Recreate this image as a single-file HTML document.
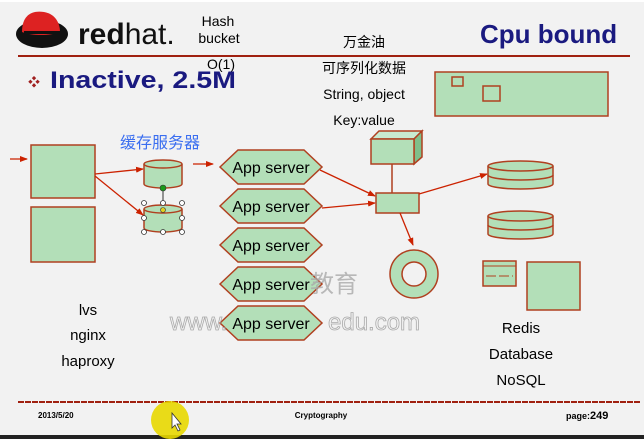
<html><body style="margin:0;background:#f2f2f2">
<svg width="644" height="439" xmlns="http://www.w3.org/2000/svg" style="display:block;font-family:'Liberation Sans','Noto Sans CJK SC',sans-serif">
<defs>
<marker id="a" markerWidth="8" markerHeight="8" refX="7" refY="4" orient="auto" markerUnits="userSpaceOnUse"><path d="M0,1 L8,4 L0,7z" fill="#cc2200"/></marker>
<g id="hex"><polygon points="220,17 238,0 304,0 322,17 304,34 238,34" fill="#b3dfb8" stroke="#b04020" stroke-width="1.5"/><text x="271" y="23" font-size="16" text-anchor="middle" fill="#000">App server</text></g>
<g id="db"><path d="M488,166 v18 a32.5,5 0 0 0 65,0 v-18" fill="#b3dfb8" stroke="#b04020" stroke-width="1.5"/><path d="M488,175 a32.5,5 0 0 0 65,0" fill="none" stroke="#b04020" stroke-width="1.5"/><ellipse cx="520.5" cy="166" rx="32.5" ry="5" fill="#b3dfb8" stroke="#b04020" stroke-width="1.5"/></g>
</defs>
<rect width="644" height="439" fill="#f2f2f2"/>
<rect y="0" width="644" height="2" fill="#fff"/>
<rect y="435" width="644" height="4" fill="#222"/>
<ellipse cx="42" cy="34" rx="26" ry="14" fill="#111"/>
<path d="M22,32 C22,15 32,10 44,12 C56,14 60,24 60,32 C50,36 32,36 22,32z" fill="#d22"/>
<rect x="24" y="31" width="36" height="3" fill="#111"/>
<text x="78" y="44" font-size="30" font-weight="bold" fill="#111">red<tspan font-weight="normal">hat.</tspan></text>
<line x1="18" y1="56" x2="630" y2="56" stroke="#a02010" stroke-width="2"/>
<text x="218" y="26" font-size="14" text-anchor="middle">Hash</text>
<text x="219" y="43" font-size="14" text-anchor="middle">bucket</text>
<text x="221" y="69" font-size="14" text-anchor="middle">O(1)</text>
<text x="364" y="47" font-size="14" text-anchor="middle">万金油</text>
<text x="364" y="73" font-size="14" text-anchor="middle">可序列化数据</text>
<text x="364" y="99" font-size="14" text-anchor="middle">String, object</text>
<text x="364" y="125" font-size="14" text-anchor="middle">Key:value</text>
<text x="480" y="43" font-size="26" font-weight="bold" fill="#1a1a80">Cpu bound</text>
<text x="28" y="86" font-size="12" fill="#a02020">❖</text>
<text x="50" y="88" font-size="24" font-weight="bold" fill="#1a1a80" textLength="186" lengthAdjust="spacingAndGlyphs">Inactive, 2.5M</text>
<rect x="435" y="72" width="173" height="44" fill="#b3dfb8" stroke="#b04020" stroke-width="1.5"/>
<rect x="452" y="77" width="11" height="9" fill="#b3dfb8" stroke="#b04020" stroke-width="1.5"/>
<rect x="483" y="86" width="17" height="15" fill="#b3dfb8" stroke="#b04020" stroke-width="1.5"/>
<text x="120" y="148" font-size="16" fill="#3a6ef0">缓存服务器</text>
<line x1="10" y1="159" x2="27" y2="159" stroke="#cc2200" stroke-width="1.3" marker-end="url(#a)"/>
<rect x="31" y="145" width="64" height="53" fill="#b3dfb8" stroke="#b04020" stroke-width="1.5"/>
<rect x="31" y="207" width="64" height="55" fill="#b3dfb8" stroke="#b04020" stroke-width="1.5"/>
<line x1="95" y1="174" x2="143" y2="169" stroke="#cc2200" stroke-width="1.3" marker-end="url(#a)"/>
<line x1="95" y1="176" x2="143" y2="215" stroke="#cc2200" stroke-width="1.3" marker-end="url(#a)"/>
<path d="M144,164 v20 a19,4 0 0 0 38,0 v-20" fill="#b3dfb8" stroke="#b04020" stroke-width="1.5"/><ellipse cx="163" cy="164" rx="19" ry="4" fill="#b3dfb8" stroke="#b04020" stroke-width="1.5"/>
<path d="M144,209 v19 a19,4 0 0 0 38,0 v-19" fill="#b3dfb8" stroke="#b04020" stroke-width="1.5"/><ellipse cx="163" cy="209" rx="19" ry="4" fill="#b3dfb8" stroke="#b04020" stroke-width="1.5"/>
<line x1="163" y1="188" x2="163" y2="203" stroke="#333"/>
<circle cx="163" cy="188" r="3" fill="#1a9a1a" stroke="#333" stroke-width=".6"/>
<g fill="#fff" stroke="#333" stroke-width=".8"><circle cx="144" cy="203" r="2.5"/><circle cx="163" cy="203" r="2.5"/><circle cx="182" cy="203" r="2.5"/><circle cx="144" cy="218" r="2.5"/><circle cx="182" cy="218" r="2.5"/><circle cx="144" cy="232" r="2.5"/><circle cx="163" cy="232" r="2.5"/><circle cx="182" cy="232" r="2.5"/></g>
<circle cx="163" cy="210" r="2.5" fill="#e0d020" stroke="#333" stroke-width=".6"/>
<line x1="193" y1="164" x2="213" y2="164" stroke="#cc2200" stroke-width="1.3" marker-end="url(#a)"/>
<use href="#hex" y="150"/><use href="#hex" y="189"/><use href="#hex" y="228"/><use href="#hex" y="267"/><use href="#hex" y="306"/>
<text x="310" y="292" font-size="24" fill="#aaa" opacity=".8">教育</text>
<text x="170" y="330" font-size="24" fill="none" stroke="#999" stroke-width=".8" opacity=".8">www.</text>
<text x="328" y="330" font-size="24" fill="none" stroke="#999" stroke-width=".8" opacity=".8">edu.com</text>
<line x1="320" y1="170" x2="375" y2="196" stroke="#cc2200" stroke-width="1.3" marker-end="url(#a)"/>
<line x1="322" y1="208" x2="375" y2="203" stroke="#cc2200" stroke-width="1.3" marker-end="url(#a)"/>
<polygon points="371,139 379,131 422,131 414,139" fill="#c8ead0" stroke="#b04020" stroke-width="1.5"/>
<polygon points="414,139 422,131 422,157 414,164" fill="#7fbf8a" stroke="#b04020" stroke-width="1.5"/>
<rect x="371" y="139" width="43" height="25" fill="#b3dfb8" stroke="#b04020" stroke-width="1.5"/>
<line x1="392" y1="164" x2="392" y2="193" stroke="#b04020" stroke-width="1.5"/>
<rect x="376" y="193" width="43" height="20" fill="#b3dfb8" stroke="#b04020" stroke-width="1.5"/>
<line x1="419" y1="194" x2="487" y2="174" stroke="#cc2200" stroke-width="1.3" marker-end="url(#a)"/>
<line x1="400" y1="213" x2="413" y2="245" stroke="#cc2200" stroke-width="1.3" marker-end="url(#a)"/>
<use href="#db"/><use href="#db" y="50"/>
<circle cx="414" cy="274" r="18" fill="none" stroke="#b3dfb8" stroke-width="12"/>
<circle cx="414" cy="274" r="24" fill="none" stroke="#b04020" stroke-width="1.5"/>
<circle cx="414" cy="274" r="12" fill="#f2f2f2" stroke="#b04020" stroke-width="1.5"/>
<rect x="483" y="261" width="33" height="25" fill="#b3dfb8" stroke="#b04020" stroke-width="1.5"/>
<line x1="483" y1="266" x2="516" y2="266" stroke="#b04020"/>
<line x1="486" y1="276" x2="513" y2="276" stroke="#b04020" stroke-dasharray="10,3"/>
<rect x="527" y="262" width="53" height="48" fill="#b3dfb8" stroke="#b04020" stroke-width="1.5"/>
<text x="88" y="315" font-size="15" text-anchor="middle">lvs</text>
<text x="88" y="340" font-size="15" text-anchor="middle">nginx</text>
<text x="88" y="366" font-size="15" text-anchor="middle">haproxy</text>
<text x="521" y="333" font-size="15" text-anchor="middle">Redis</text>
<text x="521" y="359" font-size="15" text-anchor="middle">Database</text>
<text x="521" y="385" font-size="15" text-anchor="middle">NoSQL</text>
<line x1="18" y1="402" x2="640" y2="402" stroke="#a02010" stroke-width="2" stroke-dasharray="6,1"/>
<text x="38" y="418" font-size="8" font-weight="bold">2013/5/20</text>
<text x="321" y="418" font-size="8" font-weight="bold" text-anchor="middle">Cryptography</text>
<text x="566" y="419" font-size="9" font-weight="bold">page:<tspan font-size="11">249</tspan></text>
<circle cx="170" cy="420" r="19" fill="#e8d800" opacity=".9"/>
<path d="M172,413 v15 l3,-3 l3,6 l2,-1 l-3,-6 h4z" fill="#fff" stroke="#333" stroke-width=".8"/>
</svg>
</body></html>
